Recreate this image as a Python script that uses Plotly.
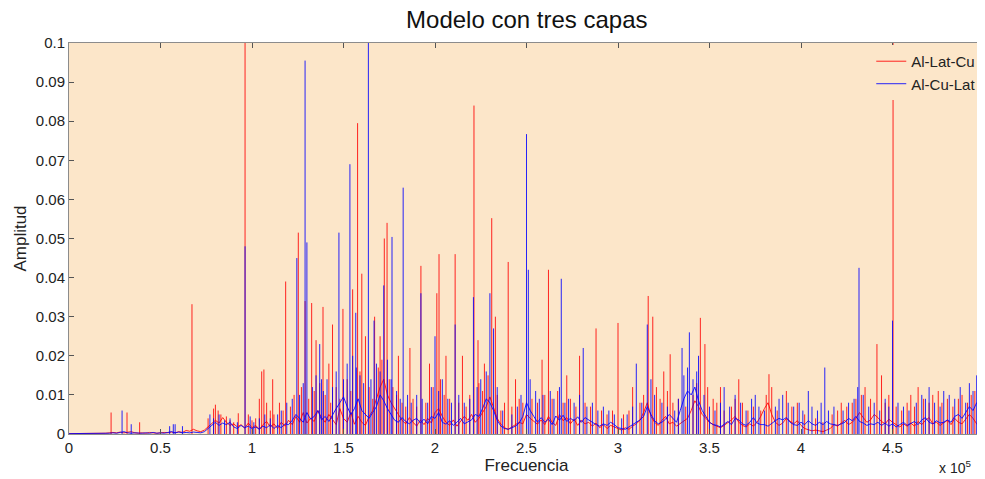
import numpy as np
import plotly.graph_objects as go

# Frequency grid step for the noise floor (Hz)
floor_step = 2000

# Noise floor of each series, in units of 1e-3 amplitude, one value per 2 kHz (0 .. 498 kHz)
red_floor = [
    0.1, 0.1, 0.1, 0.1, 0.1, 0.2, 0.1, 0.1, 0.2, 0.1,
    0.2, 0.3, 0.4, 0.3, 0.5, 0.3, 0.4, 0.6, 0.3, 0.2,
    0.3, 0.2, 0.4, 0.3, 0.2, 0.3, 0.4, 0.3, 0.5, 0.3,
    0.6, 0.4, 0.9, 0.7, 1.2, 0.8, 0.6, 1.0, 1.8, 2.5,
    3.5, 2.8, 4.2, 3.0, 2.2, 2.6, 1.8, 2.4, 1.5, 2.8,
    1.6, 2.2, 1.2, 2.4, 3.2, 1.8, 2.6, 1.4, 3.0, 2.0,
    3.5, 2.4, 4.5, 3.0, 5.5, 2.8, 4.0, 3.2, 6.0, 4.2,
    3.0, 5.0, 3.6, 2.4, 6.5, 4.0, 3.0, 5.5, 2.5, 4.5,
    3.0, 2.2, 4.5, 6.0, 9.0, 12.0, 14.0, 10.0, 8.0, 6.5,
    5.0, 3.5, 2.6, 4.2, 3.0, 2.0, 3.6, 2.4, 4.0, 2.8,
    5.5, 6.5, 4.5, 3.0, 2.2, 3.6, 2.0, 3.2, 4.5, 3.5,
    5.0, 3.0, 4.0, 5.5, 7.0, 9.5, 6.5, 4.0, 2.5, 1.6,
    1.2, 1.8, 2.2, 3.0, 2.6, 5.0, 4.0, 3.2, 2.5, 3.6,
    2.4, 4.5, 3.0, 2.2, 5.0, 3.4, 4.2, 2.6, 3.8, 2.2,
    3.5, 2.6, 3.0, 2.0, 2.8, 1.6, 2.4, 1.4, 2.2, 1.8,
    1.4, 1.0, 1.6, 1.2, 2.0, 2.6, 3.5, 5.5, 8.0, 4.5,
    3.0, 2.2, 3.5, 4.5, 2.6, 3.0, 2.0, 2.6, 3.2, 4.0,
    6.0, 8.5, 7.0, 5.0, 4.0, 3.0, 2.4, 2.0, 1.6, 2.2,
    2.8, 3.6, 4.5, 3.0, 2.2, 1.8, 2.6, 2.0, 3.0, 4.5,
    6.5, 8.0, 5.0, 3.0, 2.2, 2.8, 4.0, 3.2, 2.6, 3.4,
    2.2, 1.4, 1.0, 0.8, 1.0, 0.8, 0.6, 1.0, 1.4, 2.4,
    2.0, 2.8, 3.5, 2.4, 3.0, 4.0, 5.5, 4.2, 3.0, 3.6,
    5.0, 4.2, 3.2, 2.6, 3.8, 3.0, 2.4, 1.8, 2.6, 2.0,
    2.8, 2.0, 3.2, 2.4, 3.5, 4.2, 2.6, 3.0, 2.2, 2.8,
    3.5, 2.4, 4.0, 3.0, 2.6, 3.8, 5.0, 4.0, 2.6, 1.6,
]
blue_floor = [
    0.1, 0.1, 0.1, 0.1, 0.1, 0.1, 0.1, 0.1, 0.1, 0.1,
    0.1, 0.2, 0.3, 0.2, 0.4, 0.6, 0.3, 0.2, 0.3, 0.2,
    0.2, 0.3, 0.2, 0.4, 0.2, 0.3, 0.2, 0.4, 0.6, 0.3,
    0.5, 0.3, 0.4, 0.3, 0.5, 0.4, 0.3, 0.6, 1.5, 2.2,
    3.0, 2.2, 2.8, 2.4, 3.0, 1.8, 1.4, 2.2, 1.6, 2.0,
    1.4, 1.8, 1.2, 2.0, 1.6, 2.4, 1.4, 2.2, 1.6, 2.6,
    2.4, 3.5, 5.0, 4.0, 3.0, 5.5, 3.8, 4.5, 6.0, 3.6,
    4.5, 3.2, 5.0, 6.5, 8.0, 9.5, 7.0, 5.0, 6.5, 9.0,
    6.0, 5.0, 4.0, 5.5, 7.0, 10.0, 8.5, 6.5, 5.0, 3.5,
    3.0, 4.2, 3.2, 2.6, 3.5, 4.0, 2.8, 3.8, 2.6, 4.5,
    4.0, 5.5, 3.0, 2.5, 3.4, 2.2, 3.0, 4.0, 2.6, 3.2,
    3.6, 5.0, 4.5, 6.5, 9.0, 8.0, 6.0, 3.5, 2.0, 1.4,
    1.2, 1.6, 2.0, 2.8, 4.5, 8.0, 6.0, 4.5, 3.0, 4.2,
    3.0, 3.8, 2.4, 4.6, 3.5, 4.8, 3.2, 4.0, 3.4, 4.4,
    3.0, 4.2, 3.6, 2.8, 2.4, 2.0, 2.6, 2.2, 3.0, 2.4,
    1.6, 1.4, 1.2, 1.8, 2.4, 3.0, 3.6, 4.5, 7.0, 5.0,
    3.4, 2.6, 3.0, 3.8, 5.0, 4.0, 3.0, 6.0, 9.0, 11.0,
    10.0, 12.0, 8.5, 6.0, 4.5, 3.0, 2.4, 2.2, 1.8, 2.6,
    3.2, 2.4, 4.0, 3.6, 2.6, 2.2, 3.0, 4.2, 2.8, 2.4,
    2.4, 2.0, 2.8, 3.4, 4.0, 3.6, 4.2, 3.0, 2.4, 2.2,
    3.0, 2.4, 3.4, 2.6, 2.2, 3.0, 2.4, 3.2, 2.6, 2.4,
    2.2, 2.6, 3.0, 4.0, 3.4, 4.5, 3.2, 2.8, 2.2, 2.6,
    2.4, 3.0, 2.2, 2.8, 2.0, 2.6, 1.8, 2.4, 3.0, 2.2,
    2.6, 3.2, 2.4, 3.6, 4.2, 3.0, 2.6, 3.4, 2.8, 3.0,
    3.6, 3.0, 4.5, 5.0, 4.0, 5.5, 7.0, 6.0, 8.0, 6.5,
]

# Spectral peaks: frequency in units of 1e5 Hz, amplitude in units of 1e-3
red_peak_freq = [0.23, 0.317, 0.386, 0.672, 0.79, 0.815, 0.925, 0.962, 1.053, 1.065,
                 1.113, 1.15, 1.184, 1.253, 1.29, 1.326, 1.35, 1.388, 1.42, 1.44,
                 1.497, 1.55, 1.577, 1.60, 1.62, 1.67, 1.70, 1.723, 1.738, 1.80,
                 1.863, 1.923, 1.97, 2.01, 2.022, 2.06, 2.11, 2.15, 2.213, 2.235,
                 2.27, 2.31, 2.33, 2.40, 2.44, 2.585, 2.62, 2.72, 2.79, 2.88,
                 3.00, 3.08, 3.165, 3.19, 3.25, 3.285, 3.45, 3.475, 3.56, 3.66,
                 3.825, 3.92, 4.22, 4.30, 4.415, 4.44, 4.503, 4.60, 4.64, 4.75,
                 4.80, 4.88, 4.95]
red_peak_amp = [5.5, 5.5, 3.0, 33.2, 6.5, 6.0, 5.3, 120, 16, 16.5,
                14, 8, 39, 51.5, 34, 33.5, 24, 32.5, 18, 28,
                32, 37, 79.5, 41, 25, 30, 25, 50, 54, 20,
                22, 43, 18, 36, 46, 20, 46, 20, 84, 24,
                18, 55.2, 30, 44, 14, 19, 42, 15, 20, 27,
                28.4, 12, 35.3, 30, 16, 20.4, 29.7, 23, 12, 14,
                15.3, 11, 8, 9, 23, 15, 120, 10, 12, 11,
                9, 10, 11]

# Smaller spikes forming the dense band (same units)
red_small_freq = [0.76, 0.80, 0.83, 0.86, 0.88, 0.90, 0.98, 1.00, 1.02, 1.04,
                  1.08, 1.10, 1.12, 1.17, 1.21, 1.23, 1.27, 1.31, 1.34, 1.37,
                  1.40, 1.43, 1.46, 1.48, 1.52, 1.54, 1.59, 1.64, 1.66, 1.69,
                  1.71, 1.75, 1.77, 1.79, 1.82, 1.84, 1.88, 1.90, 1.95, 1.99,
                  2.03, 2.05, 2.08, 2.13, 2.17, 2.19, 2.24, 2.26, 2.29, 2.34,
                  2.36, 2.38, 2.42, 2.46, 2.48, 2.53, 2.56, 2.60, 2.64, 2.67,
                  2.70, 2.74, 2.77, 2.82, 2.85, 2.91, 2.94, 2.97, 3.03, 3.06,
                  3.12, 3.14, 3.21, 3.23, 3.27, 3.30, 3.33, 3.37, 3.41, 3.43,
                  3.49, 3.52, 3.54, 3.58, 3.62, 3.64, 3.68, 3.71, 3.74, 3.78,
                  3.81, 3.84, 3.87, 3.95, 3.98, 4.02, 4.08, 4.12, 4.17, 4.20,
                  4.25, 4.28, 4.33, 4.35, 4.38, 4.46, 4.48, 4.52, 4.55, 4.58,
                  4.62, 4.67, 4.70, 4.72, 4.77, 4.83, 4.86, 4.91, 4.93, 4.97]
red_small_amp = [4, 7.5, 5, 4.5, 3.5, 3, 5, 3.5, 4, 9,
                 8, 6, 5, 6, 7, 10, 12, 9, 11, 13,
                 10, 8, 12, 9, 14, 11, 16, 12, 9, 17,
                 19, 14, 12, 10, 8, 7, 9, 7, 8, 12,
                 14, 10, 9, 8, 7, 10, 13, 11, 15, 10,
                 6, 8, 7, 9, 8, 9, 8, 10, 9, 11,
                 8, 9, 7, 8, 7, 6, 5, 6, 5, 6,
                 8, 10, 12, 9, 11, 8, 9, 7, 10, 13,
                 12, 9, 8, 6, 7, 9, 8, 6, 7, 6,
                 10, 12, 6, 7, 8, 5, 4, 3, 5, 6,
                 7, 8, 10, 12, 9, 8, 10, 7, 6, 8,
                 7, 9, 8, 10, 8, 7, 9, 8, 10, 6]

blue_peak_freq = [0.29, 0.57, 0.962, 1.245, 1.29, 1.30, 1.37, 1.38, 1.475, 1.535,
                  1.567, 1.636, 1.667, 1.72, 1.765, 1.826, 1.923, 2.00, 2.11, 2.21,
                  2.30, 2.32, 2.50, 2.51, 2.69, 2.81, 3.10, 3.16, 3.35, 3.39,
                  3.44, 3.58, 3.75, 3.90, 4.04, 4.13, 4.317, 4.50, 4.70, 4.78,
                  4.96, 4.98]
blue_peak_amp = [6.0, 2.5, 48, 45, 95.5, 49, 23, 14, 51.5, 69,
                 31, 120, 29, 38, 50.4, 63, 36, 25, 28, 35,
                 36, 27, 76.7, 42, 39.7, 22, 18, 28, 22, 26,
                 20, 12, 10, 10, 11, 17, 42.5, 29, 12, 11,
                 15, 17]

blue_small_freq = [0.34, 0.55, 0.58, 0.62, 0.77, 0.79, 0.82, 0.85, 0.88, 0.92,
                   0.99, 1.01, 1.04, 1.07, 1.10, 1.14, 1.16, 1.19, 1.22, 1.26,
                   1.28, 1.33, 1.35, 1.39, 1.41, 1.44, 1.46, 1.50, 1.52, 1.55,
                   1.57, 1.59, 1.61, 1.65, 1.68, 1.70, 1.74, 1.76, 1.79, 1.81,
                   1.85, 1.87, 1.90, 1.93, 1.96, 1.98, 2.02, 2.04, 2.07, 2.09,
                   2.13, 2.16, 2.19, 2.23, 2.25, 2.28, 2.34, 2.37, 2.42, 2.45,
                   2.47, 2.52, 2.55, 2.57, 2.59, 2.63, 2.65, 2.68, 2.71, 2.73,
                   2.76, 2.79, 2.83, 2.86, 2.89, 2.92, 2.95, 2.98, 3.02, 3.05,
                   3.08, 3.13, 3.18, 3.20, 3.24, 3.27, 3.31, 3.33, 3.36, 3.38,
                   3.41, 3.43, 3.47, 3.50, 3.53, 3.56, 3.61, 3.64, 3.67, 3.70,
                   3.73, 3.77, 3.80, 3.86, 3.88, 3.93, 3.96, 3.99, 4.01, 4.06,
                   4.09, 4.11, 4.15, 4.18, 4.23, 4.26, 4.29, 4.31, 4.34, 4.37,
                   4.40, 4.43, 4.46, 4.48, 4.53, 4.56, 4.59, 4.63, 4.66, 4.68,
                   4.73, 4.76, 4.81, 4.84, 4.87, 4.90, 4.92, 4.94, 4.99]
blue_small_amp = [2.5, 2, 2.5, 2, 5, 4, 5, 3.5, 4, 3,
                  4.5, 3, 4, 5, 4, 5, 6, 8, 9, 10,
                  13, 12, 15, 11, 14, 12, 16, 14, 18, 20,
                  17, 15, 13, 14, 18, 16, 19, 14, 11, 9,
                  10, 8, 10, 9, 8, 12, 11, 14, 9, 8,
                  10, 8, 9, 12, 14, 16, 12, 6, 5, 7,
                  10, 14, 11, 9, 10, 11, 9, 12, 8, 9,
                  8, 10, 7, 8, 6, 7, 6, 5, 4, 5,
                  7, 8, 14, 10, 8, 7, 6, 9, 15, 17,
                  14, 16, 10, 7, 6, 8, 7, 10, 8, 6,
                  9, 7, 6, 7, 9, 8, 7, 8, 6, 7,
                  6, 8, 6, 7, 6, 8, 9, 12, 10, 7,
                  8, 6, 9, 7, 8, 7, 6, 8, 10, 9,
                  8, 7, 10, 9, 12, 8, 13, 11, 14]

x_tick_vals = [0, 0.5, 1, 1.5, 2, 2.5, 3, 3.5, 4, 4.5, 5]
x_tick_text = ["0", "0.5", "1", "1.5", "2", "2.5", "3", "3.5", "4", "4.5", "5"]
y_tick_vals = [0, 0.01, 0.02, 0.03, 0.04, 0.05, 0.06, 0.07, 0.08, 0.09, 0.1]
y_tick_text = ["0", "0.01", "0.02", "0.03", "0.04", "0.05", "0.06", "0.07", "0.08", "0.09", "0.1"]

RED = "rgba(255,0,0,0.85)"
BLUE = "rgba(0,0,255,0.85)"
BG = "#FCE6C9"


def floor_xy(values):
    x = np.arange(len(values)) * floor_step
    y = np.array(values) * 1e-3
    return x, y


def stems(freqs, amps):
    xs, ys = [], []
    for f, a in zip(freqs, amps):
        xs += [f * 1e5, f * 1e5, None]
        ys += [0, a * 1e-3, None]
    return xs, ys


fig = go.Figure()
for name, fl, pf, pa, sf, sa, col in [
    ("Al-Lat-Cu", red_floor, red_peak_freq, red_peak_amp, red_small_freq, red_small_amp, RED),
    ("Al-Cu-Lat", blue_floor, blue_peak_freq, blue_peak_amp, blue_small_freq, blue_small_amp, BLUE),
]:
    fx, fy = floor_xy(fl)
    fig.add_trace(go.Scatter(x=fx, y=fy, mode="lines", name=name,
                             line=dict(color=col, width=1), legendgroup=name))
    sx, sy = stems(list(pf) + list(sf), list(pa) + list(sa))
    fig.add_trace(go.Scatter(x=sx, y=sy, mode="lines", name=name, showlegend=False,
                             line=dict(color=col, width=1), legendgroup=name,
                             connectgaps=False))

axis_common = dict(showline=True, linecolor="#8c8c8c", linewidth=1, mirror="ticks",
                   ticks="inside", ticklen=5, tickcolor="#555555", showgrid=False,
                   zeroline=False, automargin=False, ticklabeloverflow="allow",
                   tickfont=dict(size=15, color="#222222"))

# The page body adds an 8px offset, so the figure is 977x471
fig.update_layout(
    width=977, height=471,
    margin=dict(l=61, r=1, t=35, b=45),
    paper_bgcolor="white", plot_bgcolor=BG,
    font=dict(family="Liberation Sans, Arial, sans-serif", color="#222222"),
    title=dict(text="Modelo con tres capas", x=0.531, xanchor="center", y=0.975,
               yanchor="middle", font=dict(size=24, color="#111111")),
    showlegend=True,
    legend=dict(x=0.997, xanchor="right", y=0.995, yanchor="top", bgcolor=BG,
                borderwidth=0, font=dict(size=15, color="#222222"),
                tracegroupgap=0),
    xaxis=dict(range=[0, 5e5], tickvals=[v * 1e5 for v in x_tick_vals], ticktext=x_tick_text,
               title=dict(text="Frecuencia", font=dict(size=17), standoff=2), **axis_common),
    yaxis=dict(range=[0, 0.1], tickvals=y_tick_vals, ticktext=y_tick_text,
               title=dict(text="Amplitud", font=dict(size=17), standoff=4), **axis_common),
    annotations=[dict(text="x 10<sup>5</sup>", xref="paper", yref="paper", x=0.968, y=-0.085,
                      showarrow=False, xanchor="center", yanchor="middle",
                      font=dict(size=14, color="#222222"))],
)

fig.write_html("out.html")
